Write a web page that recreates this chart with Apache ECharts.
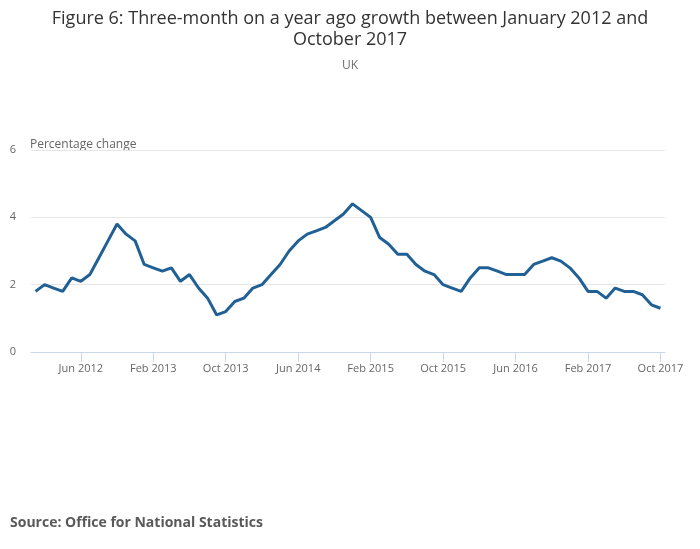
<!DOCTYPE html>
<html>
<head>
<meta charset="utf-8">
<script src="https://cdn.jsdelivr.net/npm/echarts@6/dist/echarts.min.js"></script>
<style>
html,body{margin:0;padding:0;background:#fff;}
#chart{width:700px;height:549px;}
</style>
</head>
<body>
<div id="chart"></div>
<script>
const months = ['Jan','Feb','Mar','Apr','May','Jun','Jul','Aug','Sep','Oct','Nov','Dec'];
const categories = [];
for (let y = 2012; y <= 2017; y++) {
  for (let m = 0; m < 12; m++) {
    if (y === 2017 && m > 9) break;
    categories.push(months[m] + ' ' + y);
  }
}
const values = [
  1.8, 2.0, 1.9, 1.8, 2.2, 2.1, 2.3, 2.8, 3.3, 3.8, 3.5, 3.3,
  2.6, 2.5, 2.4, 2.5, 2.1, 2.3, 1.9, 1.6, 1.1, 1.2, 1.5, 1.6,
  1.9, 2.0, 2.3, 2.6, 3.0, 3.3, 3.5, 3.6, 3.7, 3.9, 4.1, 4.4,
  4.2, 4.0, 3.4, 3.2, 2.9, 2.9, 2.6, 2.4, 2.3, 2.0, 1.9, 1.8,
  2.2, 2.5, 2.5, 2.4, 2.3, 2.3, 2.3, 2.6, 2.7, 2.8, 2.7, 2.5,
  2.2, 1.8, 1.8, 1.6, 1.9, 1.8, 1.8, 1.7, 1.4, 1.3
];
const yTicks = [0, 2, 4, 6];
const titleLines = ['Figure 6: Three-month on a year ago growth between January 2012 and', 'October 2017'];
const subtitle = 'UK';
const yAxisTitle = 'Percentage change';
const sourceText = 'Source: Office for National Statistics';

const font = '"Open Sans", "Noto Sans", sans-serif';
const showIdx = (i) => i % 8 === 5;

const chart = echarts.init(document.getElementById('chart'));
chart.setOption({
  animation: false,
  backgroundColor: '#fff',
  textStyle: { fontFamily: font },
  graphic: [
    { type: 'text', x: 350, y: 19, style: { text: titleLines[0], fontSize: 18, fill: '#333', fontFamily: font, align: 'center', verticalAlign: 'middle' } },
    { type: 'text', x: 350, y: 40, style: { text: titleLines[1], fontSize: 18, fill: '#333', fontFamily: font, align: 'center', verticalAlign: 'middle' } },
    { type: 'text', x: 350, y: 66, style: { text: subtitle, fontSize: 12, fill: '#707070', fontFamily: font, align: 'center', verticalAlign: 'middle' } },
    { type: 'text', x: 30, y: 145, style: { text: yAxisTitle, fontSize: 12, fill: '#666', fontFamily: font, align: 'left', verticalAlign: 'middle' } },
    { type: 'text', x: 10, y: 523, style: { text: sourceText, fontSize: 14, fontWeight: 'bold', fill: '#595959', fontFamily: font, align: 'left', verticalAlign: 'middle' } }
  ],
  grid: { left: 31, right: 35, top: 150, bottom: 197 },
  xAxis: {
    type: 'category',
    data: categories,
    boundaryGap: true,
    axisLine: { lineStyle: { color: '#ccd6eb', width: 1 } },
    axisTick: { show: true, alignWithLabel: true, interval: showIdx, length: 10, lineStyle: { color: '#ccd6eb' } },
    axisLabel: { interval: showIdx, color: '#666', fontSize: 11, margin: 11, fontFamily: font },
    splitLine: { show: false }
  },
  yAxis: {
    type: 'value',
    min: yTicks[0],
    max: yTicks[yTicks.length - 1],
    interval: 2,
    axisLine: { show: false },
    axisTick: { show: false },
    axisLabel: { color: '#666', fontSize: 11, margin: 15, padding: [3, 0, 0, 0], fontFamily: font },
    splitLine: { lineStyle: { color: '#e6e6e6', width: 1 } }
  },
  series: [{
    type: 'line',
    data: values,
    showSymbol: false,
    symbol: 'none',
    lineStyle: { color: '#206095', width: 3 },
    itemStyle: { color: '#206095' }
  }]
});
</script>
</body>
</html>
